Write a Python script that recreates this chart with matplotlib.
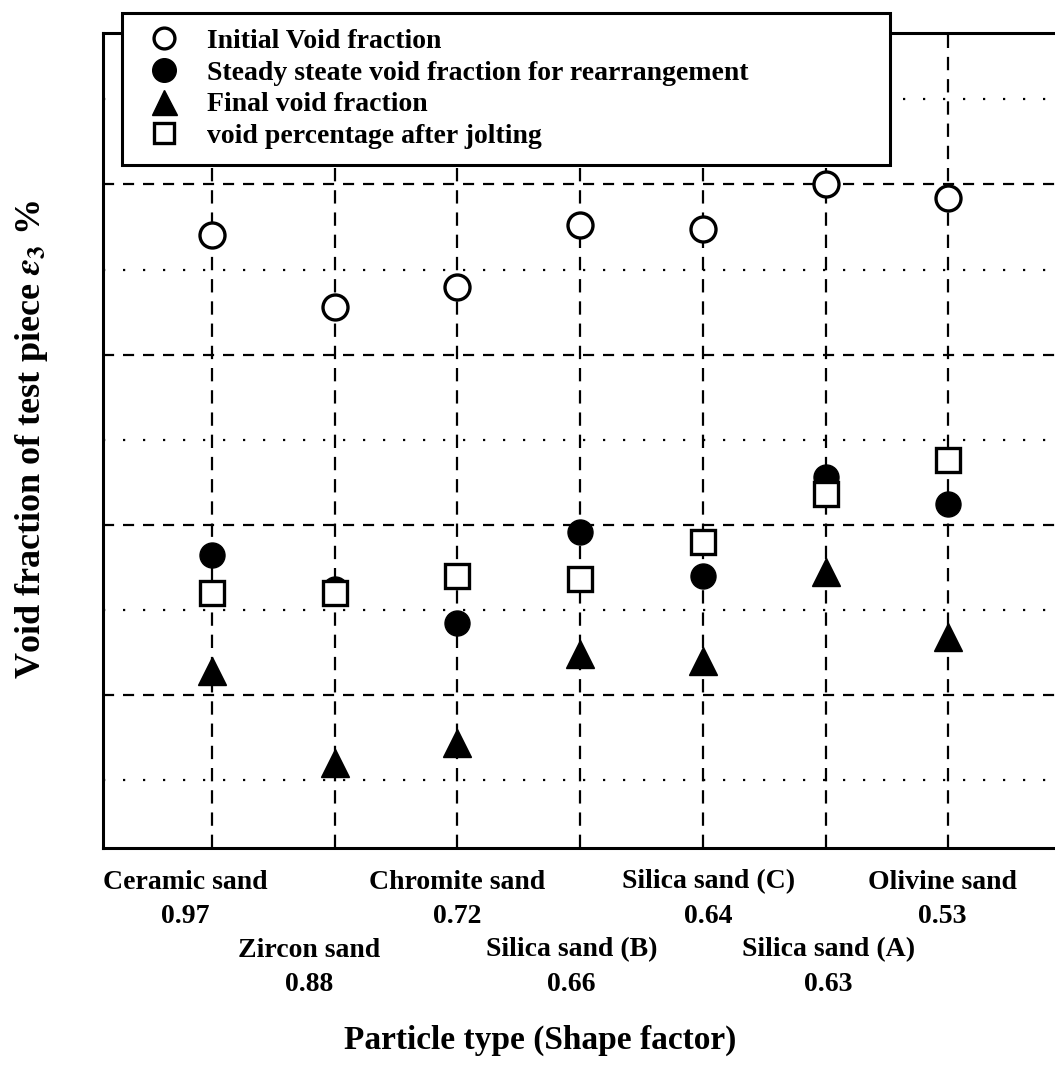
import numpy as np
import matplotlib.pyplot as plt
from matplotlib.lines import Line2D

plt.rcParams['font.family'] = ['Liberation Serif', 'DejaVu Serif']
plt.rcParams['font.weight'] = 'bold'
plt.rcParams['mathtext.fontset'] = 'stix'

particles = ['Ceramic sand', 'Zircon sand', 'Chromite sand', 'Silica sand (B)',
             'Silica sand (C)', 'Silica sand (A)', 'Olivine sand']
shape_factor = ['0.97', '0.88', '0.72', '0.66', '0.64', '0.63', '0.53']

initial = [48.5, 46.4, 47.0, 48.8, 48.7, 50.0, 49.6]
steady = [39.1, 38.1, 37.1, 39.8, 38.5, 41.4, 40.6]
final = [35.7, 33.0, 33.6, 36.2, 36.0, 38.6, 36.7]
jolting = [38.0, 38.0, 38.5, 38.4, 39.5, 40.9, 41.9]

x = np.arange(1, len(particles) + 1)

W, H = 1055, 1068
fig = plt.figure(figsize=(W/100, H/100), dpi=100)
ax = fig.add_axes([103/W, 1 - 848/H, (1071-103)/W, (848-33)/H])

ax.set_xlim(0.114, 8.0)
ax.set_ylim(30.5, 54.45)

ax.set_yticks([35, 40, 45, 50])
ax.set_yticks([32.5, 37.5, 42.5, 47.5, 52.5], minor=True)
ax.yaxis.grid(True, which='major', color='black', linestyle=(0, (5, 4)), lw=1.6)
ax.yaxis.grid(True, which='minor', color='black', linestyle=(0, (1, 8)), lw=1.6)
ax.xaxis.grid(True, color='black', linestyle=(0, (6, 4)), lw=1.6)
ax.set_axisbelow(True)
ax.tick_params(axis='y', which='major', direction='in', length=4, width=1.2, labelleft=False)
ax.tick_params(axis='y', which='minor', length=0)
ax.set_xticks(x)
ax.tick_params(axis='x', length=0, labelbottom=False)

# staggered category labels, two rows (offsets in points below the axis)
shift_pt = [-19, -18, 0, -6, 4, 2, -4]
row_pt = 24.5
for i in range(len(particles)):
  base = row_pt if i % 2 == 0 else 3*row_pt
  ax.annotate(particles[i], (x[i], 0), xycoords=ax.get_xaxis_transform(),
              xytext=(shift_pt[i], -base), textcoords='offset points',
              ha='center', va='center', fontsize=20)
  ax.annotate(shape_factor[i], (x[i], 0), xycoords=ax.get_xaxis_transform(),
              xytext=(shift_pt[i], -base - row_pt), textcoords='offset points',
              ha='center', va='center', fontsize=20)

for s in ax.spines.values():
  s.set_linewidth(2.2)

ms = 18
ax.plot(x, final, linestyle='none', marker='^', ms=ms+2, color='black', zorder=3)
ax.plot(x, steady, linestyle='none', marker='o', ms=ms, color='black', zorder=3)
ax.plot(x, jolting, linestyle='none', marker='s', ms=ms-1, mfc='white', mec='black', mew=2.4, zorder=4)
ax.plot(x, initial, linestyle='none', marker='o', ms=ms, mfc='white', mec='black', mew=2.4, zorder=4)

handles = [
  Line2D([], [], linestyle='none', marker='o', ms=15, mfc='white', mec='black', mew=2.4),
  Line2D([], [], linestyle='none', marker='o', ms=17, color='black'),
  Line2D([], [], linestyle='none', marker='^', ms=18, color='black'),
  Line2D([], [], linestyle='none', marker='s', ms=14, mfc='white', mec='black', mew=2.4),
]
names = ['Initial Void fraction', 'Steady steate void fraction for rearrangement',
         'Final void fraction', 'void percentage after jolting']
leg = fig.legend(handles, names, loc='upper left',
                 bbox_to_anchor=(122/W, 1 - 13/H, (890-122)/W, 0), mode='expand',
                 borderaxespad=0, fontsize=20, fancybox=False, framealpha=1,
                 edgecolor='black', handlelength=1.95, handletextpad=0.55,
                 labelspacing=0.23, borderpad=0.55)
leg.get_frame().set_linewidth(2.2)

fig.text(540/W, 1 - 1040/H, 'Particle type (Shape factor)', ha='center', va='center', fontsize=24)
fig.text(32/W, 1 - 440/H, r'Void fraction of test piece $\varepsilon_3$ %', rotation=90,
         ha='center', va='center', fontsize=26)

plt.savefig('out.png', dpi=100)
plt.close()
